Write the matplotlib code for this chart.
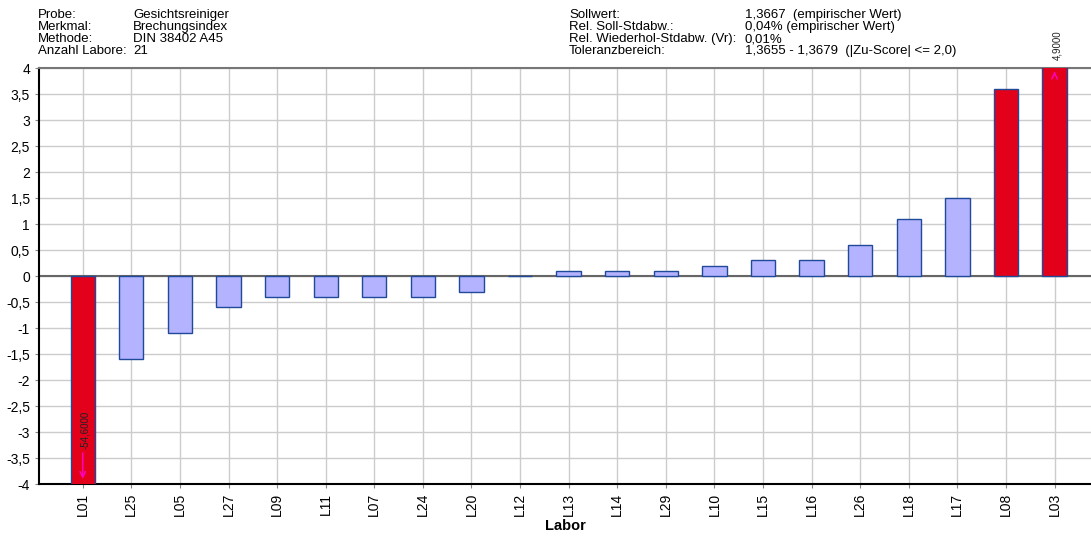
import numpy as np
import matplotlib.pyplot as plt

plt.rcParams['font.family'] = ['Liberation Sans', 'DejaVu Sans']

# Labore und z-Scores
labore = ['L01', 'L25', 'L05', 'L27', 'L09', 'L11', 'L07', 'L24', 'L20', 'L12', 'L13',
          'L14', 'L29', 'L10', 'L15', 'L16', 'L26', 'L18', 'L17', 'L08', 'L03']
werte = [-54.6, -1.6, -1.1, -0.6, -0.4, -0.4, -0.4, -0.4, -0.3, 0.0, 0.1,
         0.1, 0.1, 0.2, 0.3, 0.3, 0.6, 1.1, 1.5, 3.6, 4.9]
grenze = 2.0

kopf_links = [('Probe:', 'Gesichtsreiniger'), ('Merkmal:', 'Brechungsindex'),
              ('Methode:', 'DIN 38402 A45'), ('Anzahl Labore:', '21')]
kopf_rechts = [('Sollwert:', '1,3667  (empirischer Wert)'),
               ('Rel. Soll-Stdabw.:', '0,04% (empirischer Wert)'),
               ('Rel. Wiederhol-Stdabw. (Vr):', '0,01%'),
               ('Toleranzbereich:', '1,3655 - 1,3679  (|Zu-Score| <= 2,0)')]

fig = plt.figure(figsize=(10.91, 5.36), dpi=100)
ax = fig.add_axes([39/1091, 1-484/536, 1-39/1091, 416/536])

x = np.arange(len(labore))
farben = ['#e2001a' if abs(v) > grenze else '#b3b3ff' for v in werte]
ax.bar(x, werte, width=0.5, color=farben, edgecolor='#1f4a9a', linewidth=1, zorder=3)

ax.set_ylim(-4, 4)
ax.set_xlim(-0.9, 20.75)
ax.set_yticks(np.arange(-4, 4.01, 0.5))
ax.set_yticklabels([('%g' % t).replace('.', ',') for t in np.arange(-4, 4.01, 0.5)])
ax.set_xticks(x)
ax.set_xticklabels(labore, rotation=90)
ax.tick_params(labelsize=10, length=3, color='#888888')
ax.grid(True, color='#cccccc', linewidth=1, zorder=0)
ax.axhline(0, color='#666666', linewidth=1.5, zorder=2)
ax.spines['right'].set_visible(False)
ax.spines['top'].set_color('#777777')
ax.spines['top'].set_linewidth(1.5)
ax.spines['left'].set_linewidth(1.5)
ax.spines['bottom'].set_linewidth(1.5)
ax.set_xlabel('Labor', fontsize=10.5, fontweight='bold', labelpad=2)

# Werte ausserhalb der Skala
for i, v in enumerate(werte):
    txt = ('%.4f' % v).replace('.', ',')
    if v < -4:
        ax.annotate('', xy=(i, -3.95), xytext=(i, -3.35),
                    arrowprops=dict(arrowstyle='->', color='#ff00cc', lw=1), zorder=4)
        ax.text(i + 0.05, -3.32, txt, rotation=90, fontsize=7, ha='center', va='bottom',
                color='#222222', zorder=4)
    elif v > 4:
        ax.annotate('', xy=(i, 3.98), xytext=(i, 3.85),
                    arrowprops=dict(arrowstyle='->', color='#ff00cc', lw=1), zorder=4)
        ax.text(i + 0.05, 4.15, txt, rotation=90, fontsize=7, ha='center', va='bottom',
                color='#222222', clip_on=False)

# Kopfzeilen
for k, (a, b) in enumerate(kopf_links):
    y = 1 - (15 + 12*k)/536
    fig.text(38/1091, y, a, fontsize=9.5, va='center')
    fig.text(133/1091, y, b, fontsize=9.5, va='center')
for k, (a, b) in enumerate(kopf_rechts):
    y = 1 - (15 + 12*k)/536
    fig.text(569/1091, y, a, fontsize=9.5, va='center')
    fig.text(745/1091, y, b, fontsize=9.5, va='center')

fig.savefig('out.png', dpi=100)
